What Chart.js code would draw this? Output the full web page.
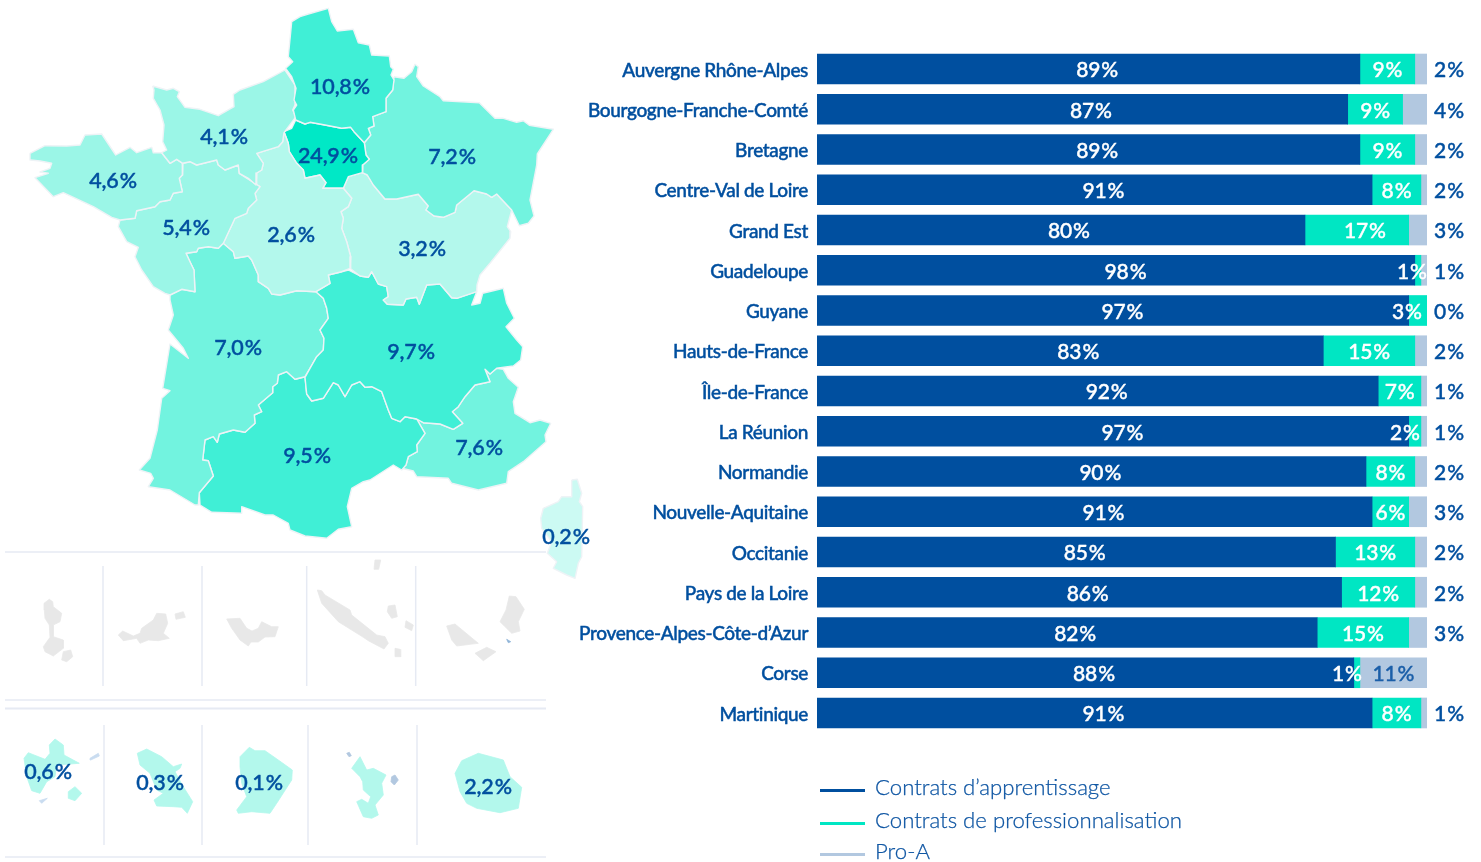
<!DOCTYPE html>
<html lang="fr"><head><meta charset="utf-8"><title>Contrats par région</title>
<style>html,body{margin:0;padding:0;background:#fff;overflow:hidden}canvas{position:absolute;top:0}#map{left:0}#bars{left:570px}</style>
<script src="https://cdn.jsdelivr.net/npm/chart.js@4/dist/chart.umd.min.js"></script></head>
<body><canvas id="map" width="600" height="862"></canvas><canvas id="bars" width="911" height="862"></canvas>
<script>
// ---------- bar chart data ----------
const categories=["Auvergne Rhône-Alpes","Bourgogne-Franche-Comté","Bretagne","Centre-Val de Loire","Grand Est","Guadeloupe","Guyane","Hauts-de-France","Île-de-France","La Réunion","Normandie","Nouvelle-Aquitaine","Occitanie","Pays de la Loire","Provence-Alpes-Côte-d’Azur","Corse","Martinique"];
const apprentissage=[89,87,89,91,80,98,97,83,92,97,90,91,85,86,82,88,91];
const professionnalisation=[9,9,9,8,17,1,3,15,7,2,8,6,13,12,15,1,8];
const proA=[2,4,2,2,3,1,0,2,1,1,2,3,2,2,3,11,1];
const seriesNames=["Contrats d’apprentissage","Contrats de professionnalisation","Pro-A"];
// ---------- map: share of each region ----------
const regionShares=["4,6","4,1","10,8","24,9","7,2","5,4","2,6","3,2","7,0","9,7","9,5","7,6","0,2","0,6","0,3","0,1","2,2"];
// ---------- map outlines ----------
const hautsDeFrance=[[291.7,21.7],[300,16.7],[308.3,14],[328.3,8.3],[331.7,21.7],[337.3,31],[353.3,29.3],[358.3,42.7],[369.3,45],[371.7,55],[389.3,56],[390.7,66.7],[393.3,69.3],[391,75],[394,80],[392.7,90],[386,98.3],[386,111.7],[372.7,116.7],[374,126],[368.3,128.3],[370.7,135],[364.3,142.7],[354,131.7],[350.7,127.3],[341.7,128.3],[325,125],[310,122.3],[305,124],[295.7,120],[293.3,110],[296.7,105],[294,100],[296,88.3],[291.7,76.7],[285.7,68.3],[292.7,61.7],[288.3,56.7]];
const normandie=[[152.7,86],[166.7,90],[173.3,88.3],[179.3,91.7],[177.3,96.7],[185,107.3],[200,109.3],[218.3,115.7],[234,106.7],[233.3,94.3],[240,90],[263.3,81.7],[285,70],[295,85],[295,105],[292.7,110],[296,116.7],[284,132.7],[282.7,141.7],[278.3,146.7],[256.7,153.3],[263.3,163.3],[261.7,170],[256.7,173],[256,185],[248.3,178.3],[239.3,173.3],[238.3,165],[225,170],[218.3,165],[216.7,160],[196.7,165],[190,161.7],[182.7,163.3],[176.7,159.3],[170,163.3],[161.7,152.7],[166.7,150],[162.7,141.7],[164,125],[160,110],[153.3,98.3],[154,90]];
const bretagne=[[30,153.3],[45,145.7],[66.7,146],[80,145],[85,135],[101.7,134],[115.7,155],[130,147.3],[136.7,152.7],[151.7,147.3],[153.3,152.7],[161.7,152.7],[170,163.3],[176.7,159.3],[182.7,163.3],[182.3,175],[179.3,178.3],[182.3,191.7],[173.3,193.3],[170,200],[160,201.7],[155,206.7],[136.7,210.7],[135,218.3],[120,220],[111.7,217.3],[93.3,206.7],[63.3,192.7],[53.3,196.7],[35,177.7],[48.3,173.3],[40,172],[50,168.3],[51.7,163.3],[40,161],[30.7,160]];
const paysDeLaLoire=[[120,220],[135,218.3],[136.7,210.7],[155,206.7],[160,201.7],[170,200],[173.3,193.3],[182.3,191.7],[179.3,178.3],[182.3,175],[182.7,163.3],[190,161.7],[196.7,165],[216.7,160],[218.3,165],[225,170],[238.3,165],[239.3,173.3],[260,186.7],[255,193.3],[256.7,200],[248.3,208.3],[246.7,213.3],[235,218.3],[223.3,243.3],[218.3,248.3],[208.3,246.7],[198.3,248.3],[196.7,251.7],[186,253.3],[190.7,263.3],[194,270],[195,291.7],[181.7,289.3],[170,295],[165,293.3],[153.3,286.7],[141.7,270],[135,256.7],[138.3,247.3],[126.7,241.7],[118.3,226.7]];
const centreValDeLoire=[[256.7,153.3],[278.3,146.7],[282.7,141.7],[284,131.7],[288.3,143.3],[289.3,151.7],[296.7,163.3],[303.3,170],[305,178.3],[320,175],[326,182.7],[322.7,188.3],[343.3,188.3],[351.7,198.3],[348.3,206.7],[341,211.7],[343.3,218.3],[341.7,228.3],[346.7,241.7],[350.7,256.7],[350,268.3],[341.7,271.7],[328.3,275],[330,283.3],[316,291.7],[296.7,290.7],[280,295],[271.7,294],[268.3,288.3],[258.3,281.7],[258.3,275],[251.7,260],[248.3,256],[235,258.3],[233.3,251.7],[223.3,243.3],[235,218.3],[246.7,213.3],[248.3,208.3],[256.7,200],[255,193.3],[260,186.7],[256,185],[256.7,173],[261.7,170],[263.3,163.3]];
const ileDeFrance=[[295.7,120],[305,124],[310,122.3],[325,125],[341.7,128.3],[350.7,127.3],[354,131.7],[364.3,142.7],[366,155],[369.3,159.3],[362.7,165],[362.3,172.7],[348.3,176.7],[343.3,188.3],[322.7,188.3],[326,182.7],[320,175],[305,178.3],[303.3,170],[296.7,163.3],[289.3,151.7],[288.3,143.3],[284,131.7],[291.7,128.3]];
const grandEst=[[394,76.7],[404,78.3],[411.7,71.7],[415,64.3],[418.3,66.7],[416.7,76.7],[423.3,86],[440,96.7],[443.3,100.7],[461.7,101.7],[479.3,102.7],[495,118.3],[503.3,118.3],[516.7,122.3],[523.3,120.7],[529.3,125.3],[553.3,129.3],[537.3,154],[536.7,165],[530,200],[534,216],[528.3,223.3],[519.3,225.7],[511.7,210],[496.7,194],[491.7,197.3],[486.7,194],[474,190.7],[456.7,205],[455,212.3],[443.3,217.3],[434,216],[426,210],[428.3,206],[418.3,194.3],[396.7,199],[385,199],[373.3,185],[367.3,175],[362.3,172.7],[362.7,165],[369.3,159.3],[366,155],[364.3,142.7],[370.7,135],[368.3,128.3],[374,126],[372.7,116.7],[386,111.7],[386,98.3],[392.7,90]];
const bourgogne=[[343.3,188.3],[348.3,176.7],[362.3,172.7],[367.3,175],[373.3,185],[385,199],[396.7,199],[418.3,194.3],[428.3,206],[426,210],[434,216],[443.3,217.3],[455,212.3],[456.7,205],[474,190.7],[486.7,194],[491.7,197.3],[496.7,194],[511.7,210],[507.3,226.7],[510.7,231.7],[510,238.3],[490,263.3],[480,275],[477,285],[476.7,291.7],[456.7,298.3],[451.7,297.7],[440,284],[426.7,285],[419.3,304.3],[416.7,297.3],[406,299],[403.3,305],[387.3,304.3],[383.3,300],[388.3,296.7],[386.7,286.7],[378.3,284],[371.7,271.7],[368.3,277.3],[360,276],[350,268.3],[350.7,256.7],[346.7,241.7],[341.7,228.3],[343.3,218.3],[341,211.7],[348.3,206.7],[351.7,198.3]];
const auvergneRhoneAlpes=[[348.3,270],[360,276],[368.3,277.3],[371.7,271.7],[378.3,284],[386.7,286.7],[388.3,296.7],[383.3,300],[387.3,304.3],[403.3,305],[406,299],[416.7,297.3],[419.3,304.3],[426.7,285],[440,284],[451.7,297.7],[456.7,298.3],[476.7,291.7],[471.7,305],[480,303.3],[482.7,293.3],[503.3,288.3],[506.7,303.3],[514.3,318.3],[506,326.7],[516.7,340],[522.7,346.7],[520.7,360],[513.3,366],[496.7,368.3],[490,374],[485,369.3],[490,381.7],[475,385],[465,396.7],[458.3,406.7],[452.3,411.7],[462.7,423.3],[453.3,429.3],[440,424],[423.3,422.7],[416.7,419],[405,416.7],[400,421.7],[391.7,418.3],[388.3,410],[381.7,391.7],[371.7,386.7],[365,387.3],[360,381.7],[351.7,385],[345,396.7],[338.3,385],[333.3,382.7],[323.3,398.3],[311.7,401],[306.7,394],[305,377.3],[310,368.3],[316.7,356.7],[323.3,350],[324,338.3],[320,330],[328.3,318.3],[326.7,308.3],[323.3,298.3],[316,291.7],[330,283.3],[328.3,275],[341.7,271.7]];
const nouvelleAquitaine=[[170,295],[181.7,289.3],[195,291.7],[194,270],[190.7,263.3],[186,253.3],[196.7,251.7],[198.3,248.3],[208.3,246.7],[218.3,248.3],[223.3,243.3],[233.3,251.7],[235,258.3],[248.3,256],[251.7,260],[258.3,275],[258.3,281.7],[268.3,288.3],[271.7,294],[280,295],[296.7,290.7],[316,291.7],[323.3,298.3],[326.7,308.3],[328.3,318.3],[320,330],[324,338.3],[323.3,350],[316.7,356.7],[310,368.3],[305,376.7],[295,379.3],[286.7,371.7],[278.3,375],[277.3,383.3],[272.7,386.7],[272.7,392.7],[258.3,405],[261.7,411.7],[254.3,415],[255,423.3],[245,432.3],[233.3,430],[219.3,434],[217.3,442.3],[213.3,436.7],[205,440],[202.7,460],[208.3,460.7],[213.3,476],[199.3,492.7],[198.3,505],[195,505],[170,490],[148.3,486.7],[153.3,478.3],[150.7,473.3],[139.3,470],[150,458.3],[157.3,430],[161.7,398.3],[170,390.7],[162.7,388.3],[170,344],[188.3,358.3],[183.3,348.3],[168.3,330],[173.3,315],[170,300]];
const occitanie=[[199.3,492.7],[213.3,476],[208.3,460.7],[202.7,460],[205,440],[213.3,436.7],[217.3,442.3],[219.3,434],[233.3,430],[245,432.3],[255,423.3],[254.3,415],[261.7,411.7],[258.3,405],[272.7,392.7],[272.7,386.7],[277.3,383.3],[278.3,375],[286.7,371.7],[295,379.3],[305,376.7],[306.7,394],[311.7,401],[323.3,398.3],[333.3,382.7],[338.3,385],[345,396.7],[351.7,385],[360,381.7],[365,387.3],[371.7,386.7],[381.7,391.7],[388.3,410],[391.7,418.3],[400,421.7],[405,416.7],[416.7,419],[425,433.3],[416.7,445],[417.3,451.7],[408.3,456.7],[406,465],[401.7,470],[393.3,465],[370,480],[363.3,481.7],[351.7,488.3],[347.3,506.7],[351.7,526.7],[338.3,529.3],[326.7,538.3],[305,536],[290,530],[288.3,523.3],[273.3,515],[265,515],[241.7,506.7],[241.7,513.3],[211.7,512.3],[200,505]];
const paca=[[416.7,419],[423.3,422.7],[440,424],[453.3,429.3],[462.7,423.3],[452.3,411.7],[458.3,406.7],[465,396.7],[475,385],[490,381.7],[485,369.3],[490,374],[496.7,368.3],[503.3,369.3],[508.3,378.3],[518.3,387.3],[513.3,401.7],[515,413.3],[530,422.7],[540,420],[550.7,423.3],[545,435],[546,441.7],[523.3,461.7],[508.3,471.7],[506.7,483.3],[478.3,490],[451.7,483.3],[448.3,478.3],[416.7,476.7],[413.3,471],[401.7,468.3],[406,465],[408.3,456.7],[417.3,451.7],[416.7,445],[425,433.3]];
const corse=[[571.7,480],[577.3,479.3],[581.7,493.3],[579.3,501.7],[582.7,506.7],[581.7,556.7],[578.3,563.3],[575,578.3],[566.7,575],[553.3,568.3],[556.7,561.7],[547.3,553.3],[551.7,541.7],[541.7,528.3],[540.7,518.3],[543.3,508.3],[558.3,501.7],[561.7,496.7],[571.7,496.7]];
const guadeloupe=[[24,758.3],[28.3,752.7],[45,759.3],[50,753.3],[49.3,745],[55,739],[63.3,745],[64,755],[79.3,763.3],[56.7,765],[55,776.7],[46.7,781.7],[40,793.3],[31.7,790.7],[26.7,776.7]];
const marieGalante=[[68.3,791.7],[75,786.7],[81.7,793.3],[75,800.7],[68.3,798.3]];
const guadeloupeIlotA=[[90,758.3],[98.3,753.3],[99.3,756],[90.7,760]];
const guadeloupeIlotB=[[39.3,800.7],[47.3,798.3],[41.7,803.3]];
const martinique=[[137.3,753.3],[146.7,749],[161.7,756.7],[173.3,766.7],[181.7,764],[180,768.3],[175,771.7],[183.3,786.7],[192.7,801.7],[187.3,813.3],[181.7,807.3],[173.3,806.7],[156.7,806],[154,800],[163.3,793.3],[156.7,790],[150,773.3],[140,765]];
const guyane=[[240,756.7],[249.3,747.3],[255,750.7],[265,750.7],[278.3,760],[292.3,770],[291.7,780],[276.7,803.3],[270,813.3],[251.7,811.7],[238.3,813.3],[236.7,810],[246.7,796.7],[241.7,783.3],[240,766.7]];
const mayotte=[[351.7,768.3],[360,756.7],[366.7,770],[373.3,768.3],[386,775],[381.7,783.3],[383.3,795],[375,805],[378.3,815],[371.7,818.3],[363.3,816.7],[356.7,801.7],[361.7,799.3],[368.3,803.3],[370.7,796.7],[363.3,790],[362.7,781.7],[360,776.7]];
const mayotteEst=[[391.7,776.7],[395,775],[398.3,780],[394.3,785],[391,781.7]];
const mayotteNord=[[346.7,753.3],[349.3,752.3],[351.3,755.7],[349,756.7]];
const reunion=[[455,773.3],[461.7,760.7],[478.3,753.3],[503.3,760],[510,776.7],[521.7,787.3],[518.3,808.3],[500,812.7],[476.7,808.3],[466.7,803.3],[460,791.7]];
const grisA=[[44,603.3],[49.3,599.3],[52.7,601.7],[53.3,606.7],[61.7,613.3],[60,621.7],[53.3,625],[53.3,636.7],[63.3,640],[63.3,648.3],[53.3,656],[45,651.7],[43.3,646.7],[50,637.3],[49.3,625],[45,618.3],[44.3,610]];
const grisB=[[63.3,651.7],[70.7,650],[72.7,656.7],[66.7,661.7],[61.7,660]];
const grisC=[[118.3,635],[122.7,631],[133.3,636],[140,633.3],[141.7,628.3],[153.3,620],[156.7,613.3],[165.7,614],[167.7,623.3],[163.3,633.3],[169.3,638.3],[158.3,640.7],[148.3,640],[140,643.3],[136.7,638.3],[123.3,640.7]];
const grisD=[[175,614],[183.3,611.7],[185.3,617.3],[176,619.3]];
const grisE=[[226.7,619],[240,618.3],[246.7,628.3],[252,631],[258.3,628.3],[261.7,621.7],[271.7,626.7],[278.3,626.7],[275,636.7],[265,637],[258.3,642],[251,642],[248.3,646],[240,640],[231.7,628.3]];
const grisF=[[317.3,590],[321.7,590.7],[325,595],[350,610],[351.7,615],[376.7,635],[385,636.7],[388.3,643.3],[384,649],[368.3,640.7],[363.3,637.3],[338.3,621.7],[321.7,603.3]];
const grisG=[[375,560],[380.7,560],[378.7,569.3],[374,569.3]];
const grisH=[[388.3,606],[395,605],[397.3,616.7],[391.7,618.3],[387.3,611.7]];
const grisI=[[406,620.7],[413.3,625],[411.7,630.7],[405,627.3]];
const grisJ=[[395,648.3],[400,649.3],[400.7,656.7],[395,656.7]];
const grisK=[[509.3,596],[516,596.7],[524.3,609.3],[518.3,621.7],[520,631],[511.7,633.3],[500,621.7],[506,610]];
const grisL=[[446.7,626],[455,624],[478.3,643.3],[456.7,646],[451.7,640]];
const grisM=[[475,653.3],[486.7,647.3],[496,651.7],[483.3,660.7]];
const grisN=[[506.7,639.3],[510.7,641.7],[508.3,642.7]];
// separators
const rules=[[[5,552],[546,552]],[[5,700],[546,700]],[[5,708.5],[546,708.5]],[[5,857],[546,857]],
 [[103,566],[103,686]],[[202,566],[202,686]],[[306.7,566],[306.7,686]],[[415.7,566],[415.7,686]],
 [[104,725],[104,845]],[[202,725],[202,845]],[[308,725],[308,845]],[[417,725],[417,845]]];
const labelSpots=[[113,181],[224,137],[340,87],[328,156],[452,157],[186,228],[291,235],[422,249],[238,348],[411,352],[307,456],[479,448],[566,537],[48,772],[160,783],[259,783],[488,787]];

const NAVY="#004f9f",TEAL="#00e6c3",PROA="#b2c8e0";
const T1="#00e8c6",T2="#40efd6",T3="#72f3df",T4="#9bf6e7",T5="#b3f8ec",T6="#ccfaf3",GR="#e8e8e8";
const fontFam='Lato, "Noto Sans", sans-serif';
const NB="\u200a";
function heavyText(c,s,x,y,w){c.lineWidth=w;c.lineJoin="round";c.strokeStyle=c.fillStyle;c.strokeText(s,x,y);c.fillText(s,x,y);}

const shapes=[[hautsDeFrance,T2],[normandie,T4],[bretagne,T4],[paysDeLaLoire,T4],[centreValDeLoire,T5],[ileDeFrance,T1],[grandEst,T3],[bourgogne,T5],[auvergneRhoneAlpes,T2],[nouvelleAquitaine,T3],[occitanie,T2],[paca,T3],[corse,T6],
 [guadeloupe,T5],[marieGalante,T5],[guadeloupeIlotA,"#c9dcf0"],[guadeloupeIlotB,"#c9dcf0"],[martinique,T5],[guyane,T5],[mayotte,T5],[mayotteEst,PROA],[mayotteNord,PROA],[reunion,T5],
 [grisA,GR],[grisB,GR],[grisC,GR],[grisD,GR],[grisE,GR],[grisF,GR],[grisG,GR],[grisH,GR],[grisI,GR],[grisJ,GR],[grisK,GR],[grisL,GR],[grisM,GR],[grisN,"#8fb4d8"]];
const toPts=a=>a.map(p=>({x:p[0],y:p[1]}));
const mapDatasets=[
 ...rules.map((r,i)=>({label:"rule"+i,data:toPts(r),showLine:true,fill:false,borderColor:"#e6eaf3",borderWidth:(i===2?2:1.5),pointRadius:0,tension:0})),
 ...shapes.map(([a,c],i)=>({label:"shape"+i,data:toPts(a.concat([a[0]])),showLine:true,fill:"shape",backgroundColor:c,borderColor:i<13?"#eef3f6":c,borderWidth:i<13?1.4:0.8,borderJoinStyle:"round",pointRadius:0,tension:0}))
];
const mapLabels={id:"mapLabels",afterDatasetsDraw(ch){const c=ch.ctx,x=ch.scales.x,y=ch.scales.y;c.save();c.fillStyle=NAVY;c.font='500 21.5px '+fontFam;c.letterSpacing="-0.2px";c.textAlign="center";c.textBaseline="middle";
 regionShares.forEach((s,i)=>heavyText(c,s+NB+"%",x.getPixelForValue(labelSpots[i][0]),y.getPixelForValue(labelSpots[i][1]),0.45));c.restore();}};
new Chart(document.getElementById("map"),{type:"scatter",data:{datasets:mapDatasets},plugins:[mapLabels],options:{responsive:false,animation:false,layout:{padding:0},
 plugins:{legend:{display:false},tooltip:{enabled:false}},scales:{x:{type:"linear",display:false,min:0,max:600},y:{type:"linear",display:false,min:0,max:862,reverse:true}}}});

// bar chart
const teLabelNudge={"Grand Est":8,"Guadeloupe":-6,"Guyane":-11,"La Réunion":-10,"Corse":-10};
const barLabels={id:"barLabels",afterDatasetsDraw(ch){const c=ch.ctx,x=ch.scales.x,y=ch.scales.y;c.save();c.font='500 21px '+fontFam;c.letterSpacing="-0.2px";c.textAlign="center";c.textBaseline="middle";
 categories.forEach((n,i)=>{const py=y.getPixelForValue(i)+1.5,a=apprentissage[i],p=professionnalisation[i],r=proA[i];
  c.fillStyle="#fff";heavyText(c,a+NB+"%",x.getPixelForValue(a*0.516),py,0.4);
  heavyText(c,p+NB+"%",x.getPixelForValue(a+p/2)+(teLabelNudge[n]||0),py,0.4);
  if(r>=10){c.fillStyle="#1a5ea8";heavyText(c,r+NB+"%",x.getPixelForValue(a+p+r/2),py,0.4);}
  else{c.fillStyle=NAVY;heavyText(c,r+NB+"%",x.right+22,py,0.4);}
 });c.restore();}};
const legendRows=[789,822,853];
const lineLegend={id:"lineLegend",afterDraw(ch){const c=ch.ctx,l=ch.chartArea.left;c.save();c.letterSpacing="0px";c.font='300 22.2px '+fontFam;c.textAlign="left";c.textBaseline="middle";
 ch.data.datasets.forEach((d,i)=>{const py=legendRows[i];c.fillStyle=d.backgroundColor;c.fillRect(l+3,py,45,3);c.fillStyle="#0f56a3";heavyText(c,d.label,l+58,py-1,0.25);});c.restore();}};
const tickSpacing={id:"tickSpacing",beforeDraw(ch){ch.ctx.letterSpacing="-0.35px";}};
new Chart(document.getElementById("bars"),{type:"bar",data:{labels:categories,datasets:[
 {label:seriesNames[0],data:apprentissage,backgroundColor:NAVY},
 {label:seriesNames[1],data:professionnalisation,backgroundColor:TEAL},
 {label:seriesNames[2],data:proA,backgroundColor:PROA}]},
 plugins:[tickSpacing,barLabels,lineLegend],
 options:{indexAxis:"y",responsive:false,animation:false,layout:{padding:{top:48.9,bottom:128.9,right:54,left:0}},
 datasets:{bar:{barThickness:30,categoryPercentage:1,barPercentage:1}},
 plugins:{legend:{display:false},tooltip:{enabled:false}},
 scales:{x:{stacked:true,display:false,min:0,max:100},
 y:{stacked:true,grid:{display:false,drawTicks:false},border:{display:false},afterFit(s){s.width=247;},
 ticks:{autoSkip:false,color:NAVY,padding:9,labelOffset:1.5,textStrokeColor:NAVY,textStrokeWidth:0.45,font:{family:fontFam,size:19,weight:"500"}}}}}});
</script></body></html>
